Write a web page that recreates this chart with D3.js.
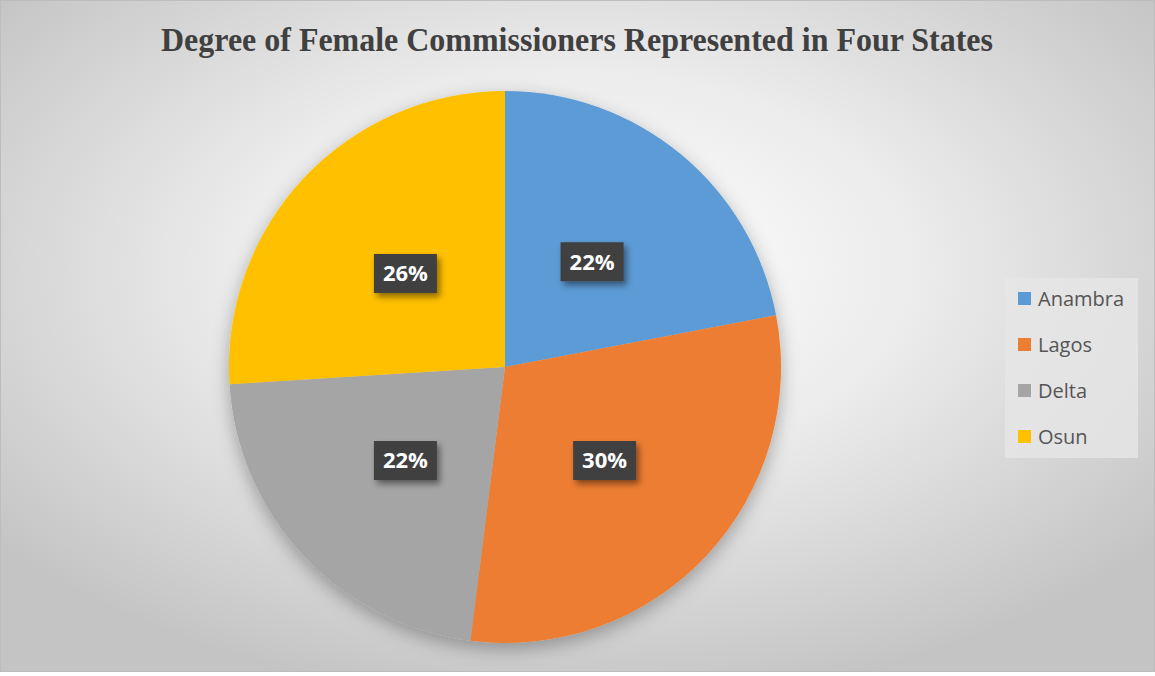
<!DOCTYPE html>
<html>
<head>
<meta charset="utf-8">
<script src="https://cdn.jsdelivr.net/npm/d3@7"></script>
<style>
  html, body { margin: 0; padding: 0; background: #fff; }
  svg { display: block; }
</style>
</head>
<body>
<svg id="chart" width="1155" height="676"></svg>
<script>
// Share of female commissioners by state (percent)
const states = ["Anambra", "Lagos", "Delta", "Osun"];
const shares = [22, 30, 22, 26];
const colors = ["#5B9BD5", "#ED7D31", "#A5A5A5", "#FFC000"];
const titleText = "Degree of Female Commissioners Represented in Four States";

const W = 1155, H = 672;
const svg = d3.select("#chart");
const defs = svg.append("defs");

// Soft radial backdrop
const bg = defs.append("radialGradient").attr("id", "bgGrad")
  .attr("cx", "50%").attr("cy", "40%").attr("r", "65%");
bg.append("stop").attr("offset", "0%").attr("stop-color", "#ffffff");
bg.append("stop").attr("offset", "45%").attr("stop-color", "#ececec");
bg.append("stop").attr("offset", "100%").attr("stop-color", "#c4c4c4");

const pieShadow = defs.append("filter").attr("id", "pieShadow")
  .attr("x", "-20%").attr("y", "-20%").attr("width", "140%").attr("height", "140%");
pieShadow.append("feDropShadow").attr("dx", 0).attr("dy", 6).attr("stdDeviation", 9)
  .attr("flood-color", "#000").attr("flood-opacity", 0.3);

const boxShadow = defs.append("filter").attr("id", "boxShadow")
  .attr("x", "-30%").attr("y", "-30%").attr("width", "160%").attr("height", "160%");
boxShadow.append("feDropShadow").attr("dx", 3).attr("dy", 4).attr("stdDeviation", 3)
  .attr("flood-color", "#000").attr("flood-opacity", 0.45);

svg.append("rect").attr("x", 0.5).attr("y", 0.5).attr("width", W - 1).attr("height", H - 1)
  .attr("fill", "url(#bgGrad)").attr("stroke", "#bdbdbd");

// Title
svg.append("text")
  .attr("x", 577).attr("y", 51)
  .attr("text-anchor", "middle")
  .attr("font-family", "'Liberation Serif', 'Times New Roman', serif")
  .attr("font-weight", "bold")
  .attr("font-size", 34)
  .attr("fill", "#404040")
  .attr("textLength", 832)
  .attr("lengthAdjust", "spacingAndGlyphs")
  .text(titleText);

// Pie
const cx = 505, cy = 367, R = 276;
const data = states.map((s, i) => ({ state: s, value: shares[i], color: colors[i] }));
const pie = d3.pie().value(d => d.value).sort(null);
const arcs = pie(data);
const arc = d3.arc().innerRadius(0).outerRadius(R);
const labelArc = d3.arc().innerRadius(R * 0.495).outerRadius(R * 0.495);

const g = svg.append("g").attr("transform", `translate(${cx},${cy})`);
g.append("g").attr("filter", "url(#pieShadow)")
  .selectAll("path").data(arcs).join("path")
  .attr("d", arc)
  .attr("fill", d => d.data.color);

// Value labels in dark boxes
const bw = 63, bh = 39;
const lab = g.selectAll("g.lab").data(arcs).join("g").attr("class", "lab")
  .attr("transform", d => `translate(${labelArc.centroid(d)})`);
lab.append("rect")
  .attr("x", -bw / 2).attr("y", -bh / 2).attr("width", bw).attr("height", bh)
  .attr("fill", "#404040")
  .attr("filter", "url(#boxShadow)");
lab.append("text")
  .attr("text-anchor", "middle").attr("dy", "0.36em")
  .attr("font-family", "'Open Sans', 'DejaVu Sans', sans-serif")
  .attr("font-weight", "bold").attr("font-size", 22)
  .attr("fill", "#ffffff")
  .text(d => d.data.value + "%");

// Legend
const lg = svg.append("g").attr("transform", "translate(1005,278)");
lg.append("rect").attr("width", 133).attr("height", 180)
  .attr("fill", "#e6e6e6").attr("fill-opacity", 0.8);
const items = lg.selectAll("g.item").data(data).join("g").attr("class", "item")
  .attr("transform", (d, i) => `translate(0,${21 + i * 46})`);
items.append("rect").attr("x", 13).attr("y", -7).attr("width", 13).attr("height", 13)
  .attr("fill", d => d.color);
items.append("text").attr("x", 33).attr("y", 0).attr("dy", "0.36em")
  .attr("font-family", "'Open Sans', 'Liberation Sans', sans-serif")
  .attr("font-size", 20).attr("fill", "#555555")
  .text(d => d.state);
</script>
</body>
</html>
